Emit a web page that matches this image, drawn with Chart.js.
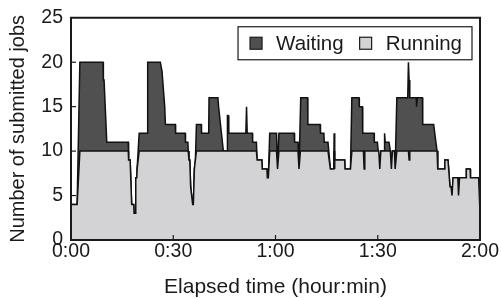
<!DOCTYPE html>
<html>
<head>
<meta charset="utf-8">
<script src="https://cdn.jsdelivr.net/npm/chart.js@4.4.1/dist/chart.umd.min.js"></script>
<style>
  html, body { margin: 0; padding: 0; background: #fff; }
  #wrap { width: 501px; height: 298px; }
</style>
</head>
<body>
<div id="wrap"><canvas id="jobsChart"></canvas></div>
<script>
// elapsed minutes / job counts (corners of the step outline)
const runningTime = [0, 1.8, 2.6, 16.8, 16.9, 17.35, 17.8, 18.4, 18.5, 18.8, 19.0, 19.3, 19.4, 20.0,
    34.4, 34.6, 34.85, 35.1, 35.4, 35.7, 35.9, 36.2, 36.5, 36.8,
    54.4, 54.6, 56.0, 56.1, 57.5, 57.6, 57.9, 58.3,
    60.3, 60.6, 61.0, 66.6, 66.9, 67.3,
    75.4, 76.1, 77.1, 77.2, 77.35, 77.4, 80.3, 80.4, 82.0, 82.4,
    85.8, 86.0, 86.2, 90.3, 90.6, 90.9,
    93.7, 94.0, 94.3, 94.9, 95.1, 95.6,
    99.0, 99.2, 99.4,
    107.4, 107.6, 109.5, 109.7, 110.6, 111.2, 111.5, 111.8, 112.1, 113.5, 113.7, 114.0,
    115.9, 116.0, 117.1, 117.2, 119.6, 119.9, 120];
const runningJobs = [4, 4, 10, 10, 9, 9, 4, 4, 3, 3, 7, 7, 8, 10,
    10, 9, 9, 6, 5, 4, 4, 8, 9, 10,
    10, 9, 9, 8, 8, 7, 7, 10,
    10, 8, 10, 10, 8, 10,
    10, 8, 8, 10, 8, 9, 9, 8, 8, 10,
    10, 8, 10, 10, 8, 10,
    10, 8, 10, 10, 8, 10,
    10, 9, 10,
    10, 8, 8, 9, 9, 6, 6, 5, 7, 7, 5, 7,
    7, 8, 8, 7, 7, 4, 4];

const submittedTime = [0, 1.8, 2.6, 9.4, 9.5, 9.7, 10.5, 16.8, 16.9, 17.35, 17.8, 18.4, 18.5, 18.8, 19.0, 19.3, 19.4, 20.0, 22.4, 22.5,
    26.2, 26.7, 27.5, 27.7, 30.6, 30.7, 33.5, 33.6, 34.3, 34.4, 34.6, 34.85, 35.1, 35.4, 35.7, 35.9, 36.2, 36.5, 36.8,
    38.2, 38.3, 40.4, 40.5, 43.1, 43.3, 44.7, 45.8, 45.9, 46.1, 46.3, 51.3, 51.5, 51.7, 53.2, 53.3, 54.4,
    54.6, 56.0, 56.1, 57.5, 57.6, 57.9, 58.3,
    60.3, 60.6, 61.0, 65.5, 65.6, 66.6, 66.9, 67.4, 69.4, 69.5, 73.1, 73.2, 74.2, 74.3, 75.4, 76.1,
    77.1, 77.2, 77.35, 77.4, 80.3, 80.4, 82.0, 82.4,
    84.5, 84.6, 85.5, 85.6, 88.9, 89.0, 89.9, 90.6, 90.9, 91.9, 92.0, 92.2, 93.3, 93.7, 94.0, 94.3, 94.9, 95.1, 95.6,
    98.8, 99.0, 99.2, 99.4, 101.3, 101.4, 101.6, 103.1, 103.2, 106.4, 107.4,
    107.6, 109.5, 109.7, 110.6, 111.2, 111.5, 111.8, 112.1, 113.5, 113.7, 114.0,
    115.9, 116.0, 117.1, 117.2, 119.6, 119.9, 120];
const submittedJobs = [4, 4, 20, 20, 18, 18, 11, 11, 9, 9, 4, 4, 3, 3, 7, 7, 8, 12, 12, 20,
    20, 19, 15, 13, 13, 12, 12, 11, 11, 10, 9, 9, 6, 5, 4, 4, 8, 9, 13,
    13, 12, 12, 16, 16, 15, 10, 10, 14, 14, 12, 12, 15, 12, 12, 11, 11,
    9, 9, 8, 8, 7, 7, 12,
    12, 8, 12, 12, 11, 11, 8, 16, 16, 13, 13, 12, 12, 11, 11, 8,
    8, 12, 8, 9, 9, 8, 8, 16,
    16, 15, 15, 12, 12, 11, 11, 8, 10, 10, 12, 11, 11, 10, 8, 10, 10, 8, 16,
    16, 20, 18, 16, 16, 15, 16, 16, 13, 13, 10,
    8, 8, 9, 9, 6, 6, 5, 7, 7, 5, 7,
    7, 8, 8, 7, 7, 4, 4];

const legendLabels = ['Waiting', 'Running'];
const timeTicks = [0, 30, 60, 90, 120];
const timeLabels = ['0:00', '0:30', '1:00', '1:30', '2:00'];

const waitingColor = '#505050';
const runningColor = '#d3d3d5';
const fontFamily = '"Liberation Sans", Arial, Helvetica, sans-serif';

function toPoints(times, values) {
    return times.map((t, i) => ({ x: t, y: values[i] }));
}

// frame + inward tick marks, like the original plot
const framePlugin = {
    id: 'frame',
    afterDatasetsDraw(chart) {
        const { ctx, chartArea: a, scales } = chart;
        ctx.save();
        ctx.strokeStyle = '#1a1a1a';
        ctx.lineWidth = 1.2;
        timeTicks.slice(1, -1).forEach(t => {
            const x = scales.x.getPixelForValue(t);
            ctx.beginPath();
            ctx.moveTo(x, a.bottom);
            ctx.lineTo(x, a.bottom - 5);
            ctx.stroke();
        });
        scales.y.ticks.forEach(tk => {
            if (tk.value <= 0 || tk.value >= 25) return;
            const y = scales.y.getPixelForValue(tk.value);
            ctx.beginPath();
            ctx.moveTo(a.left, y);
            ctx.lineTo(a.left + 5, y);
            ctx.stroke();
        });
        ctx.lineWidth = 2;
        ctx.strokeRect(a.left, a.top, a.right - a.left, a.bottom - a.top);
        ctx.restore();
    }
};

// legend drawn inside the plot area with a box around it
const boxLegend = {
    id: 'boxLegend',
    afterDraw(chart) {
        const { ctx, chartArea: a } = chart;
        const items = [
            { label: legendLabels[0], color: waitingColor },
            { label: legendLabels[1], color: runningColor }
        ];
        ctx.save();
        ctx.font = '20.5px ' + fontFamily;
        const sq = 12, padL = 12, padR = 10, gap = 14, itemGap = 16;
        let w = padL + padR;
        items.forEach((it, i) => {
            w += sq + gap + ctx.measureText(it.label).width;
            if (i < items.length - 1) w += itemGap;
        });
        const h = 33;
        const right = a.right - 8;
        const left = right - w;
        const top = a.top + 9;
        ctx.fillStyle = '#fff';
        ctx.fillRect(left, top, w, h);
        ctx.strokeStyle = '#1a1a1a';
        ctx.lineWidth = 1.2;
        ctx.strokeRect(left, top, w, h);
        let x = left + padL;
        const cy = top + h / 2;
        items.forEach(it => {
            ctx.fillStyle = it.color;
            ctx.fillRect(x, cy - sq / 2, sq, sq);
            ctx.strokeRect(x, cy - sq / 2, sq, sq);
            x += sq + gap;
            ctx.fillStyle = '#1a1a1a';
            ctx.textBaseline = 'middle';
            ctx.fillText(it.label, x, cy + 1);
            x += ctx.measureText(it.label).width + itemGap;
        });
        ctx.restore();
    }
};

const ctx = document.getElementById('jobsChart').getContext('2d');
new Chart(ctx, {
    type: 'line',
    data: {
        datasets: [
            {
                label: legendLabels[1],
                data: toPoints(runningTime, runningJobs),
                borderColor: '#111',
                borderWidth: 1.5,
                backgroundColor: runningColor,
                fill: 'origin',
                pointRadius: 0,
                tension: 0,
                order: 0
            },
            {
                label: legendLabels[0],
                data: toPoints(submittedTime, submittedJobs),
                borderColor: '#111',
                borderWidth: 1.5,
                backgroundColor: waitingColor,
                fill: 'origin',
                pointRadius: 0,
                tension: 0,
                order: 1
            }
        ]
    },
    options: {
        responsive: true,
        maintainAspectRatio: false,
        animation: false,
        layout: { padding: { top: 16, right: 21, left: 0, bottom: 0 } },
        plugins: {
            legend: { display: false },
            tooltip: { enabled: false }
        },
        scales: {
            x: {
                type: 'linear',
                min: 0,
                max: 120,
                grid: { display: false, drawTicks: false },
                border: { display: false },
                afterFit: s => { s.height = 58; },
                afterBuildTicks: s => { s.ticks = timeTicks.map(v => ({ value: v })); },
                ticks: {
                    padding: 2,
                    color: '#1a1a1a',
                    maxRotation: 0,
                    font: { family: fontFamily, size: 19.5, lineHeight: 1 },
                    callback: v => timeLabels[timeTicks.indexOf(v)]
                },
                title: {
                    display: true,
                    text: 'Elapsed time (hour:min)',
                    color: '#1a1a1a',
                    padding: { top: 0, bottom: 0 },
                    font: { family: fontFamily, size: 21, lineHeight: 1 }
                }
            },
            y: {
                min: 0,
                max: 25,
                grid: { display: false, drawTicks: false },
                border: { display: false },
                afterFit: s => { s.width = 71; },
                ticks: {
                    stepSize: 5,
                    padding: 8,
                    color: '#1a1a1a',
                    font: { family: fontFamily, size: 19.5, lineHeight: 1 }
                },
                title: {
                    display: true,
                    text: 'Number of submitted jobs',
                    color: '#1a1a1a',
                    padding: { top: 8, bottom: 0 },
                    font: { family: fontFamily, size: 20, lineHeight: 1 }
                }
            }
        }
    },
    plugins: [framePlugin, boxLegend]
});
</script>
</body>
</html>
